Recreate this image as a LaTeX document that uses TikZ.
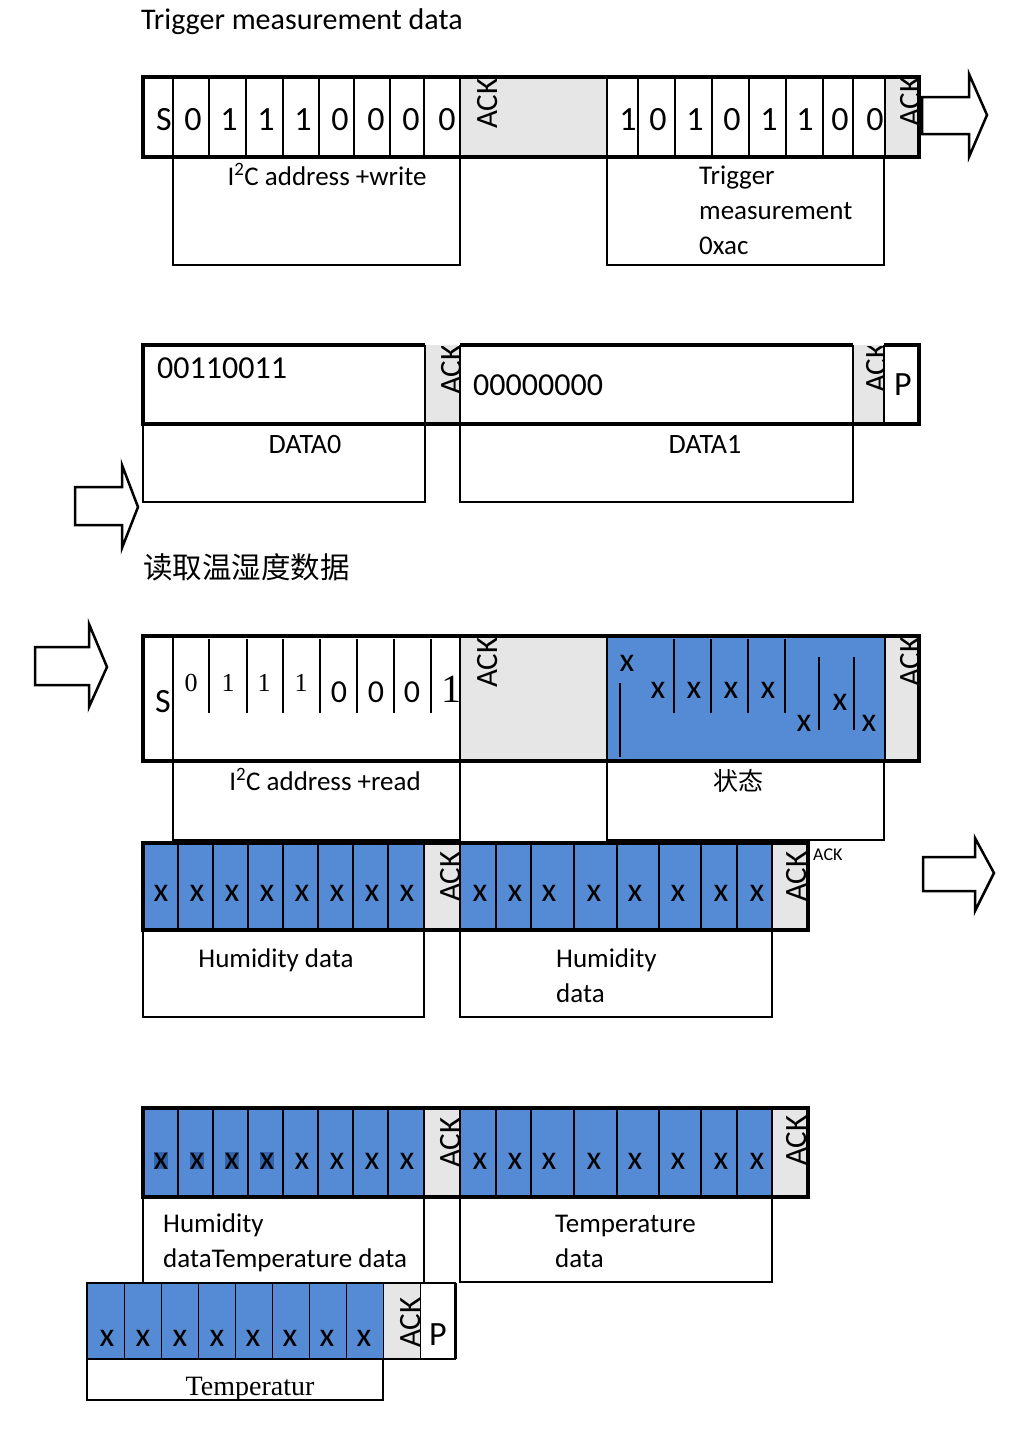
\documentclass[tikz,border=0pt]{standalone}
\usepackage{fontspec}
\setmainfont{Carlito}
\newfontfamily\serifnum{Liberation Serif}
\newfontfamily\cjk{Noto Sans CJK SC}
\definecolor{ackgray}{RGB}{230,230,230}
\definecolor{bitblue}{RGB}{84,139,212}
\definecolor{hlblue}{RGB}{52,100,172}
\begin{document}
\begin{tikzpicture}[x=1pt,y=-1pt,
  thickbox/.style={line width=3.5pt},
  thinline/.style={line width=1.2pt},
  lbl/.style={inner sep=0pt, font=\fontsize{27}{32}\selectfont},
  bit/.style={inner sep=0pt, anchor=base, font=\fontsize{34}{40}\selectfont},
  xbit/.style={inner sep=0pt, font=\fontsize{34}{40}\selectfont},
  acktxt/.style={inner sep=0pt, rotate=90, anchor=west, font=\fontsize{31}{36}\selectfont},
  blockarrow/.style={draw, line width=2.5pt, fill=white, line join=miter},
]
\useasboundingbox (0,0) rectangle (1009,1446);

% ---------- Title ----------
\node[inner sep=0pt, anchor=base west, font=\fontsize{30}{36}\selectfont] (title) at (141,29) {Trigger measurement data};

% ---------- Row 1 ----------
\fill[ackgray] (460,77) rectangle (607,157);
\fill[ackgray] (885,77) rectangle (919,157);
\foreach \xx in {173,209,246,283,319,354,390,424,460,607,638,675,712,749,786,823,853,885}
  \draw[thinline] (\xx,77) -- (\xx,157);
\draw[thickbox] (143,77) rectangle (919,157);
\foreach \xx/\t [count=\i] in {164/S,193/0,229/1,266/1,303/1,340/0,376/0,411/0,447/0,
   628/1,658/0,695/1,732/0,769/1,805/1,840/0,875/0}
  \node[bit] (ra\i) at (\xx,130) {\t};
\node[acktxt] (ack1a) at (488,129) {ACK};
\begin{scope}
  \clip (885,79) rectangle (917,155);
  \node[acktxt] (ack1b) at (911,127) {ACK};
\end{scope}
\draw[thinline] (173,157) rectangle (460,265);
\draw[thinline] (607,157) rectangle (884,265);
\node[lbl, anchor=base] (l1a) at (327,185) {I\textsuperscript{2}C address +write};
\node[lbl, anchor=base west] (l1b) at (699,184) {Trigger};
\node[lbl, anchor=base west] (l1c) at (699,219) {measurement};
\node[lbl, anchor=base west] (l1d) at (699,254) {0xac};
\draw[blockarrow] (922,97) -- (969,97) -- (969,74) -- (987,115) -- (969,157) -- (969,134) -- (922,134) -- cycle;

% ---------- Row 2 ----------
\fill[ackgray] (425,345) rectangle (460,424);
\fill[ackgray] (853,345) rectangle (884,424);
\draw[thickbox] (425,345) -- (143,345) -- (143,424) -- (919,424) -- (919,345) -- (884,345);
\draw[thickbox] (460,345) -- (853,345);
\foreach \xx in {425,460,853,884}
  \draw[thinline] (\xx,345) -- (\xx,424);
\node[inner sep=0pt, anchor=base west, font=\fontsize{32}{38}\selectfont] (d0) at (157,378) {00110011};
\node[inner sep=0pt, anchor=base west, font=\fontsize{32}{38}\selectfont] (d1) at (473,395) {00000000};
\begin{scope}
  \clip (425,346) rectangle (460,424);
  \node[acktxt] (ack2a) at (452,395) {ACK};
\end{scope}
\begin{scope}
  \clip (853,346) rectangle (884,424);
  \node[acktxt] (ack2b) at (877,393) {ACK};
\end{scope}
\node[bit] (p2) at (903,395) {P};
\draw[thinline] (143,424) rectangle (425,502);
\draw[thinline] (460,424) rectangle (853,502);
\node[lbl, font=\fontsize{28}{32}\selectfont, anchor=base] (l2a) at (305,453) {DATA0};
\node[lbl, font=\fontsize{28}{32}\selectfont, anchor=base] (l2b) at (705,453) {DATA1};
\draw[blockarrow] (75,487) -- (122,487) -- (122,465) -- (138,507) -- (122,548) -- (122,525) -- (75,525) -- cycle;

\node[inner sep=0pt, anchor=base west, font=\cjk\fontsize{29.5}{34}\selectfont] (cntitle) at (143,578) {读取温湿度数据};

% ---------- Row 3 ----------
\draw[blockarrow] (35,647) -- (89,647) -- (89,624) -- (107,667) -- (89,707) -- (89,685) -- (35,685) -- cycle;
\fill[ackgray] (460,636) rectangle (607,761);
\fill[bitblue] (607,636) rectangle (885,761);
\fill[ackgray] (885,636) rectangle (919,761);
\foreach \xx in {173,460,607,885}
  \draw[thinline] (\xx,636) -- (\xx,761);
\foreach \xx in {209,247,283,320,357,394,431}
  \draw[thinline] (\xx,639) -- (\xx,713);
\draw[thinline] (620,683) -- (620,757);
\foreach \xx in {674,711,748,785}
  \draw[thinline] (\xx,639) -- (\xx,713);
\foreach \xx in {819,854}
  \draw[thinline] (\xx,657) -- (\xx,730);
\draw[thickbox] (143,636) rectangle (919,761);
\node[bit] (s3) at (163,712) {S};
\foreach \xx/\t [count=\i] in {191/0,228/1,264/1,301/1}
  \node[inner sep=0pt, anchor=base, font=\serifnum\fontsize{26}{30}\selectfont] (rs\i) at (\xx,691) {\t};
\foreach \xx [count=\i] in {339,376,412}
  \node[inner sep=0pt, anchor=base, font=\fontsize{32}{38}\selectfont] (rz\i) at (\xx,702) {0};
\node[inner sep=0pt, anchor=base, font=\serifnum\fontsize{40}{46}\selectfont] (rone) at (451,702) {1};
\node[acktxt] (ack3a) at (488,688) {ACK};
\begin{scope}
  \clip (885,638) rectangle (917,759);
  \node[acktxt] (ack3b) at (911,687) {ACK};
\end{scope}
\foreach \xx/\yy [count=\i] in {627/663,658/690,694/690,731/690,768/690,804/723,840/702,869/723}
  \node[xbit] (st\i) at (\xx,\yy) {x};
\draw[thinline] (173,761) rectangle (460,840);
\draw[thinline] (607,761) rectangle (884,840);
\node[lbl, anchor=base] (l3a) at (325,790) {I\textsuperscript{2}C address +read};
\node[lbl, font=\cjk\fontsize{25}{30}\selectfont, anchor=base] (l3b) at (738,790) {状态};

% ---------- Row 4 ----------
\fill[bitblue] (143,843) rectangle (424,930);
\fill[ackgray] (424,843) rectangle (460,930);
\fill[bitblue] (460,843) rectangle (772,930);
\fill[ackgray] (772,843) rectangle (808,930);
\foreach \xx in {178,213,248,283,318,353,388,424,460,496,531,574,617,659,701,737,772}
  \draw[thinline] (\xx,843) -- (\xx,930);
\draw[thickbox] (143,843) rectangle (808,930);
\foreach \xx [count=\i] in {161,197,232,267,302,337,372,407,480,515,549,594,635,678,721,757}
  \node[xbit] (h\i) at (\xx,893) {x};
\node[acktxt] (ack4a) at (451,902) {ACK};
\node[acktxt] (ack4b) at (797,902) {ACK};
\node[inner sep=0pt, anchor=base west, font=\fontsize{18}{22}\selectfont] (ack4c) at (813,860) {ACK};
\draw[thinline] (143,930) rectangle (424,1017);
\draw[thinline] (460,930) rectangle (772,1017);
\node[lbl, anchor=base] (l4a) at (276,967) {Humidity data};
\node[lbl, anchor=base west] (l4b) at (556,967) {Humidity};
\node[lbl, anchor=base west] (l4c) at (556,1002) {data};
\draw[blockarrow] (923,857) -- (975,857) -- (975,838) -- (994,873) -- (975,911) -- (975,891) -- (923,891) -- cycle;

% ---------- Row 5 ----------
\fill[bitblue] (143,1108) rectangle (424,1197);
\fill[ackgray] (424,1108) rectangle (460,1197);
\fill[bitblue] (460,1108) rectangle (772,1197);
\fill[ackgray] (772,1108) rectangle (808,1197);
\foreach \xx in {161,197,232,267}
  \fill[hlblue] (\xx-7,1152) rectangle (\xx+7,1169);
\foreach \xx in {178,213,248,283,318,353,388,424,460,496,531,574,617,659,701,737,772}
  \draw[thinline] (\xx,1108) -- (\xx,1197);
\draw[thickbox] (143,1108) rectangle (808,1197);
\foreach \xx [count=\i] in {161,197,232,267,302,337,372,407,480,515,549,594,635,678,721,757}
  \node[xbit] (t\i) at (\xx,1161) {x};
\node[acktxt] (ack5a) at (451,1168) {ACK};
\node[acktxt] (ack5b) at (797,1166) {ACK};
\draw[thinline] (143,1197) rectangle (424,1283);
\draw[thinline] (460,1197) rectangle (772,1282);
\node[lbl, anchor=base west] (l5a) at (163,1232) {Humidity};
\node[lbl, anchor=base west] (l5b) at (163,1267) {dataTemperature data};
\node[lbl, anchor=base west] (l5c) at (555,1232) {Temperature};
\node[lbl, anchor=base west] (l5d) at (555,1267) {data};

% ---------- Row 6 ----------
\fill[bitblue] (87,1283) rectangle (383,1359);
\fill[ackgray] (383,1283) rectangle (420,1359);
\fill[white] (420,1283) rectangle (455,1359);
\foreach \xx in {124,161,198,235,272,309,346,383,420}
  \draw[line width=1pt] (\xx,1283) -- (\xx,1359);
\draw[line width=1.8pt] (87,1283) rectangle (455,1359);
\draw[line width=3pt] (455,1283) -- (455,1359);
\foreach \xx [count=\i] in {107,143,180,217,253,290,327,364}
  \node[xbit] (u\i) at (\xx,1338) {x};
\node[acktxt] (ack6) at (411,1348) {ACK};
\node[bit] (p6) at (438,1345) {P};
\draw[thinline] (87,1359) rectangle (383,1400);
\node[inner sep=0pt, anchor=base, font=\serifnum\fontsize{28}{30}\selectfont] (l6) at (250,1395) {Temperatur};
\end{tikzpicture}
\end{document}
